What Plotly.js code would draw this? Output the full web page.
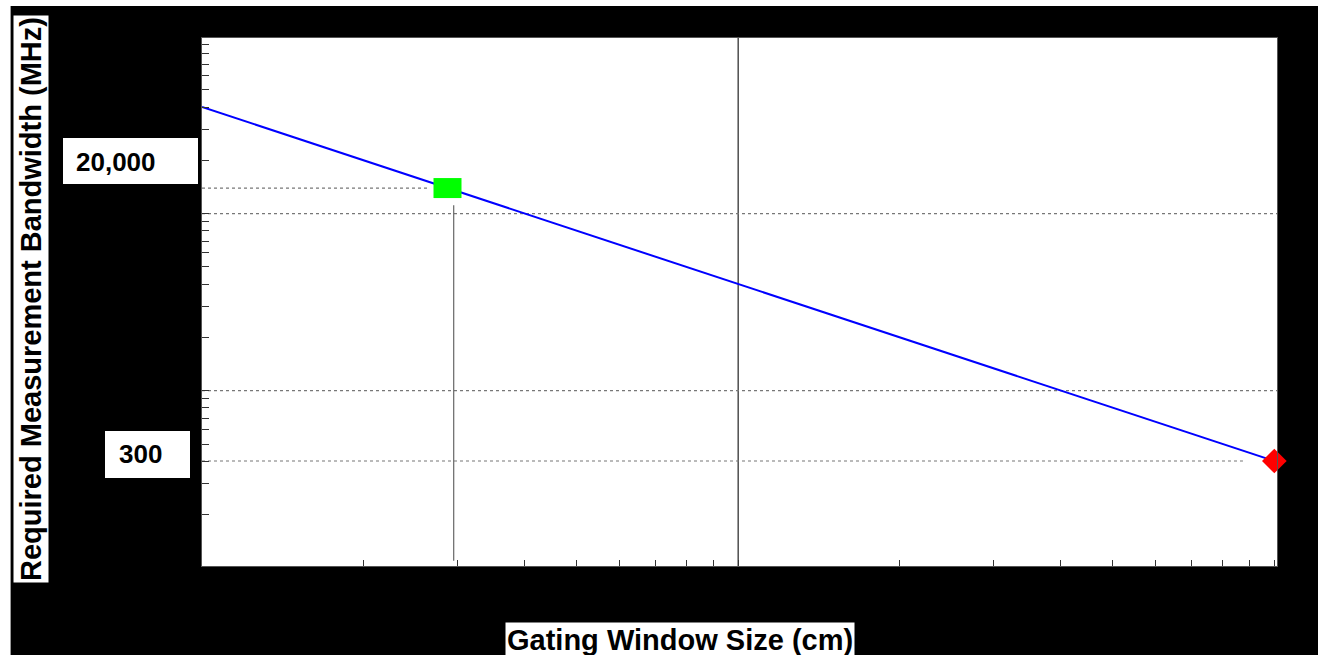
<!DOCTYPE html>
<html>
<head>
<meta charset="utf-8">
<script src="https://cdn.plot.ly/plotly-3.0.1.min.js"></script>
<style>
  html, body { margin: 0; padding: 0; background: #fff; }
  #chart { width: 1318px; height: 655px; }
</style>
</head>
<body>
<div id="chart"></div>
<script>
// Bandwidth needed for a time-domain gating window: BW (MHz) = 30000 / window (cm)
const windowCm = [1, 100];
const bandwidthMHz = [30000, 300];

// Highlighted operating points on the curve
const pointWindowCm = [2.87, 100];
const pointBandwidthMHz = [10450, 300];
const pointColors = ['#00ff00', '#ff0000'];

// Value callouts at the left of the plot
const calloutText = ['20,000', '300'];

// Figure / plot frame in pixels
const W = 1318, H = 655;
const M = { l: 202, r: 41, t: 38, b: 89 };
const PW = W - M.l - M.r, PH = H - M.t - M.b;
const px = x => (x - M.l) / PW;        // pixel x -> paper x
const py = y => (H - M.b - y) / PH;    // pixel y -> paper y

const xRange = [0, 2.005];
const yRange = [1.8839, 4.8669];
const FONT = 'Liberation Sans, Arial, Helvetica, sans-serif';

const guide = { color: '#777', width: 1.2, dash: 'dot' };

const traces = [
  // decade/minor tick scale on the left edge
  { x: [], y: [], yaxis: 'y2', type: 'scatter', mode: 'markers', showlegend: false, hoverinfo: 'skip' },
  // required bandwidth curve
  {
    x: windowCm, y: bandwidthMHz, type: 'scatter', mode: 'lines',
    line: { color: '#0000ff', width: 2 }, showlegend: false
  },
  // guides for the first operating point
  {
    x: [windowCm[0], pointWindowCm[0] * 0.92],
    y: [pointBandwidthMHz[0], pointBandwidthMHz[0]],
    type: 'scatter', mode: 'lines', line: guide, showlegend: false, hoverinfo: 'skip'
  },
  {
    x: [pointWindowCm[0] * 1.027, pointWindowCm[0] * 1.027],
    y: [pointBandwidthMHz[0] * 0.8, Math.pow(10, yRange[0] + 0.03)],
    type: 'scatter', mode: 'lines', line: { color: '#666', width: 1.2 }, showlegend: false, hoverinfo: 'skip'
  },
  // guide for the second operating point
  {
    x: [windowCm[0], pointWindowCm[1] * 0.874],
    y: [pointBandwidthMHz[1], pointBandwidthMHz[1]],
    type: 'scatter', mode: 'lines', line: guide, showlegend: false, hoverinfo: 'skip'
  },
  // operating point markers
  {
    x: [pointWindowCm[0]], y: [pointBandwidthMHz[0]], type: 'scatter', mode: 'markers',
    marker: { symbol: 'line-ew', size: 20, color: pointColors[0], line: { color: pointColors[0], width: 20 } },
    cliponaxis: false, showlegend: false
  },
  {
    x: [pointWindowCm[1]], y: [pointBandwidthMHz[1]], type: 'scatter', mode: 'markers',
    marker: { symbol: 'diamond', size: 19, color: pointColors[1], line: { width: 0 } },
    cliponaxis: false, showlegend: false
  }
];

const shapes = [
  // white margins around the black panel
  { type: 'rect', xref: 'paper', yref: 'paper', x0: px(0), x1: px(10), y0: py(H), y1: py(0),
    fillcolor: '#fff', line: { width: 0 }, layer: 'below' },
  { type: 'rect', xref: 'paper', yref: 'paper', x0: px(0), x1: px(W), y0: py(6), y1: py(0),
    fillcolor: '#fff', line: { width: 0 }, layer: 'below' },
  { type: 'line', xref: 'paper', yref: 'paper', x0: px(10.5), x1: px(10.5), y0: py(H), y1: py(6),
    line: { color: '#999', width: 1 }, layer: 'below' },
  // grid: one vertical decade line and two horizontal decade lines
  { type: 'line', xref: 'x', yref: 'paper', x0: 10, x1: 10, y0: 0, y1: 1,
    line: { color: '#222', width: 1.2 }, layer: 'below' },
  { type: 'line', xref: 'paper', yref: 'y2', x0: 0, x1: 1, y0: 10, y1: 10,
    line: { color: '#777', width: 1.2, dash: 'dot' }, layer: 'below' },
  { type: 'line', xref: 'paper', yref: 'y2', x0: 0, x1: 1, y0: 100, y1: 100,
    line: { color: '#777', width: 1.2, dash: 'dot' }, layer: 'below' },
  // callout boxes
  { type: 'rect', xref: 'paper', yref: 'paper', x0: px(63), x1: px(198), y0: py(184), y1: py(138),
    fillcolor: '#fff', line: { width: 0 } },
  { type: 'rect', xref: 'paper', yref: 'paper', x0: px(105), x1: px(190), y0: py(478), y1: py(431),
    fillcolor: '#fff', line: { width: 0 } }
];

const annotations = [
  {
    text: '<b>Required Measurement Bandwidth (MHz)</b>', textangle: -90,
    xref: 'paper', yref: 'paper', x: px(31), y: py(299), xanchor: 'center', yanchor: 'middle',
    showarrow: false, bgcolor: '#fff', borderpad: 1,
    font: { family: FONT, size: 29, color: '#000' }
  },
  {
    text: '<b>Gating Window Size (cm)</b>',
    xref: 'paper', yref: 'paper', x: px(680), y: py(640), xanchor: 'center', yanchor: 'middle',
    showarrow: false, bgcolor: '#fff', borderpad: 1,
    font: { family: FONT, size: 29, color: '#000' }
  },
  {
    text: '<b>' + calloutText[0] + '</b>',
    xref: 'paper', yref: 'paper', x: px(74), y: py(162), xanchor: 'left', yanchor: 'middle',
    showarrow: false, font: { family: FONT, size: 26, color: '#000' }
  },
  {
    text: '<b>' + calloutText[1] + '</b>',
    xref: 'paper', yref: 'paper', x: px(117), y: py(454), xanchor: 'left', yanchor: 'middle',
    showarrow: false, font: { family: FONT, size: 26, color: '#000' }
  }
];

const layout = {
  width: W, height: H,
  margin: M,
  paper_bgcolor: '#000',
  plot_bgcolor: '#fff',
  showlegend: false,
  font: { family: FONT },
  xaxis: {
    type: 'log', range: xRange, dtick: 'D1',
    ticks: 'inside', ticklen: 6, tickwidth: 1, tickcolor: '#333',
    showticklabels: false, showgrid: false, zeroline: false,
    showline: true, mirror: true, linecolor: '#555', linewidth: 1
  },
  yaxis: {
    type: 'log', range: yRange,
    ticks: '', showticklabels: false, showgrid: false, zeroline: false,
    showline: true, mirror: true, linecolor: '#555', linewidth: 1
  },
  yaxis2: {
    type: 'log', overlaying: 'y', anchor: 'x', side: 'left',
    range: [0.0097, 2.9927], dtick: 'D1',
    ticks: 'inside', ticklen: 7, tickwidth: 1, tickcolor: '#333',
    showticklabels: false, showgrid: false, zeroline: false, showline: false
  },
  shapes: shapes,
  annotations: annotations
};

Plotly.newPlot('chart', traces, layout, { displayModeBar: false, staticPlot: true });
</script>
</body>
</html>
